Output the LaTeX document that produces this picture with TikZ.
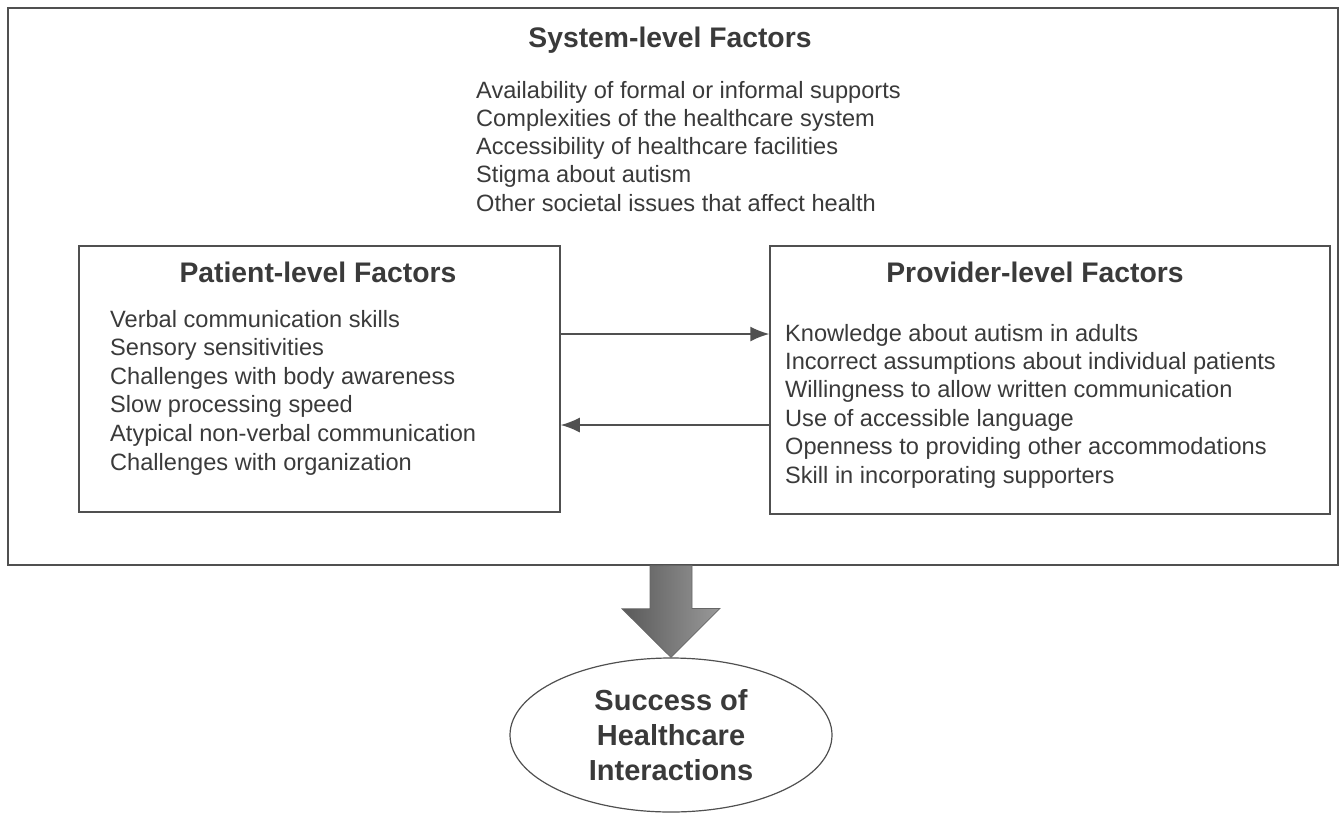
\documentclass[tikz,border=0pt]{standalone}
\usepackage{fontspec}
\setmainfont{Liberation Sans}
\usetikzlibrary{positioning,arrows.meta,calc,shapes.geometric}
\definecolor{inkgray}{HTML}{3A3A3A}
\definecolor{linegray}{HTML}{505050}
\tikzset{
  box/.style={rectangle, draw=linegray, line width=1.5pt, inner sep=0pt},
  title/.style={font=\fontsize{28.3}{34}\selectfont\bfseries, text=inkgray, anchor=base, inner sep=0pt},
  item/.style={font=\fontsize{23.6}{28}\selectfont, text=inkgray, anchor=base west, inner sep=0pt},
  connect/.style={-{Latex[length=19pt,width=15pt]}, line width=1.5pt, draw=linegray},
  bigarrow/.style={draw=black!60, line width=0.8pt, shading=axis, left color=black!65, middle color=black!12, right color=black!40}
}

\begin{document}
\begin{tikzpicture}[x=1pt,y=1pt]
  \useasboundingbox (0,0) rectangle (1342,-815);

  % Outer box: system-level factors
  \node[box, minimum width=1330pt, minimum height=557pt] (system) at (673,-286.5) {};
  \node[title] (sys_t) at (670,-47) {System-level Factors};
  \foreach \t [count=\i] in {Availability of formal or informal supports,
      Complexities of the healthcare system, Accessibility of healthcare facilities,
      Stigma about autism, Other societal issues that affect health} {
    \node[item] (sys_\i) at (476,{-98-28.3*(\i-1)}) {\t};
  }

  % Patient and provider boxes
  \node[box, minimum width=481pt, minimum height=266pt] (patient) at (319.5,-379) {};
  \node[box, minimum width=560pt, minimum height=268pt] (provider) at (1050,-380) {};
  \node[title] (pat_t) at (318,-282) {Patient-level Factors};
  \node[title] (pro_t) at (1035,-282) {Provider-level Factors};

  \foreach \t [count=\i] in {Verbal communication skills, Sensory sensitivities,
      Challenges with body awareness, Slow processing speed,
      Atypical non-verbal communication, Challenges with organization} {
    \node[item] (pat_\i) at (110,{-327-28.6*(\i-1)}) {\t};
  }
  \foreach \t [count=\i] in {Knowledge about autism in adults,
      Incorrect assumptions about individual patients,
      Willingness to allow written communication, Use of accessible language,
      Openness to providing other accommodations, Skill in incorporating supporters} {
    \node[item] (pro_\i) at (785,{-341-28.4*(\i-1)}) {\t};
  }

  % arrows between patient and provider
  \draw[connect] ([yshift=45pt]patient.east) -- ([yshift=45pt]patient.east -| provider.west);
  \draw[connect] ([yshift=-45pt]provider.west) -- ([yshift=-45pt]provider.west -| patient.east);

  % Outcome
  \node[ellipse, draw=linegray, line width=1.2pt, minimum width=322pt, minimum height=154pt,
        align=center, text=inkgray, font=\fontsize{29}{35}\selectfont\bfseries] (success) at (671,-735)
        {Success of\\Healthcare\\Interactions};

  % big arrow from system box down to the outcome
  \draw[bigarrow] (system.south -| success.north) ++(-21,0) -- ++(0,-43) -- ++(-28,0)
      -- (success.north) -- ++(49,49) -- ++(-28,0) -- ++(0,43) -- cycle;
\end{tikzpicture}
\end{document}
